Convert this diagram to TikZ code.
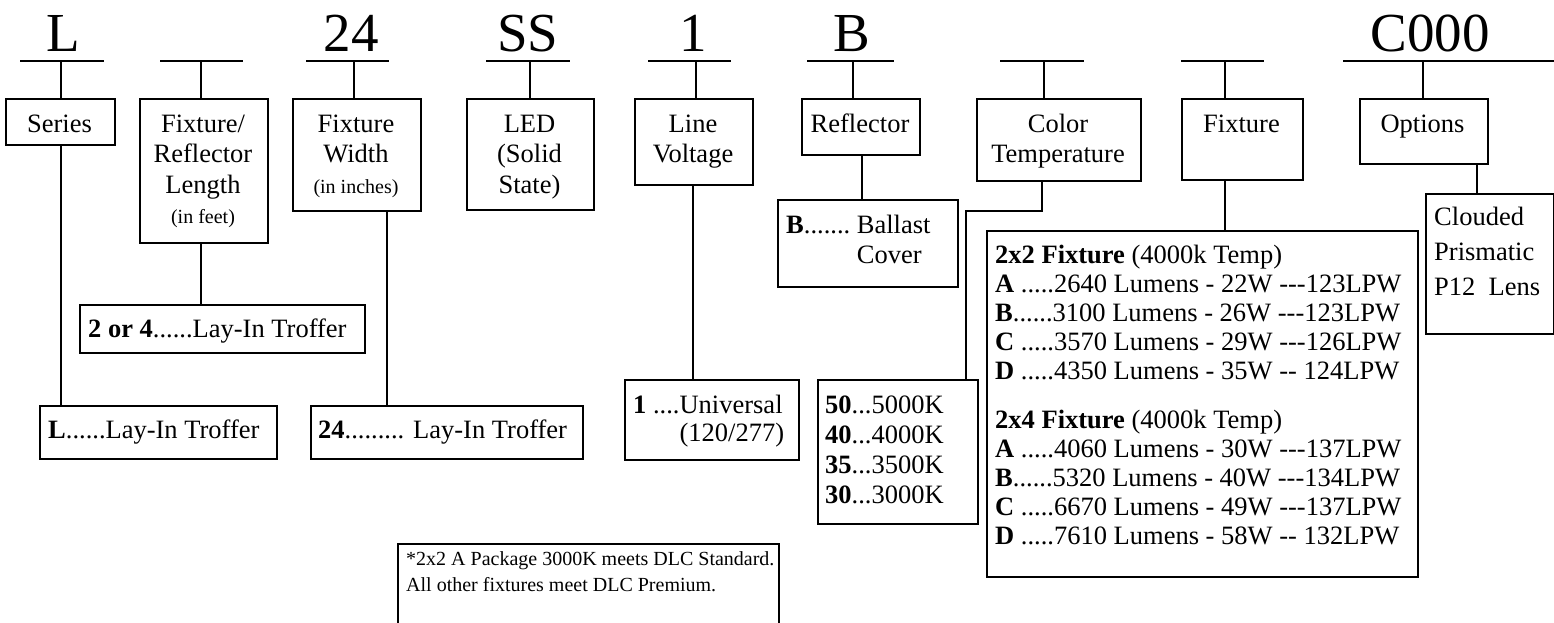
\documentclass[tikz,border=0pt]{standalone}
\usepackage{fontspec}
\setmainfont{Liberation Serif}[Ligatures=TeXOff]
\begin{document}
\begin{tikzpicture}[x=1pt,y=-1pt,
  box/.style={draw, line width=1.8pt, inner sep=0pt, anchor=north west},
  big/.style={font=\fontsize{55}{60}\selectfont, anchor=base, inner sep=0pt},
  txt/.style={font=\fontsize{26.5}{30.5}\selectfont, inner sep=0pt, anchor=base},
  ltxt/.style={inner sep=0pt, anchor=base west},
  ln/.style={line width=1.8pt}]
\fill[white] (0,0) rectangle (1554,622);
\useasboundingbox (0,0) rectangle (1554,622);

% ---- top code letters
\node[big] (tL) at (63,51) {L};
\node[big] (t24) at (351,51) {24};
\node[big] (tSS) at (528,51) {SS};
\node[big] (t1) at (693,51) {1};
\node[big] (tB) at (852,51) {B};
\node[big] (tC) at (1430,51) {C000};

% ---- top lines
\foreach \n/\a/\b/\s in {1/20/104/61, 2/160/243/201, 3/306/389/354, 4/486/570/530,
  5/648/731/696, 6/807/894/853, 7/1000/1084/1044, 8/1181/1264/1225, 9/1343/1556/1423}{
  \coordinate (a\n) at (\a,61);
  \coordinate (b\n) at (\b,61);
  \coordinate (s\n) at (\s,61);
  \draw[ln] (a\n) -- (b\n);
}

% ---- first-level boxes
\node[box, minimum width=109pt, minimum height=46pt] (series) at (5,98) {};
\node[box, minimum width=128pt, minimum height=144pt] (fixlen) at (139,98) {};
\node[box, minimum width=128pt, minimum height=112pt] (width) at (292,98) {};
\node[box, minimum width=127pt, minimum height=111pt] (led) at (466,98) {};
\node[box, minimum width=118pt, minimum height=86pt] (volt) at (634,98) {};
\node[box, minimum width=118pt, minimum height=56pt] (refl) at (801,98) {};
\node[box, minimum width=164pt, minimum height=82pt] (color) at (976,98) {};
\node[box, minimum width=121pt, minimum height=81pt] (fix) at (1181,98) {};
\node[box, minimum width=128pt, minimum height=65pt] (opt) at (1359,98) {};

\draw[ln] (s1) -- (s1 |- series.north);
\draw[ln] (s2) -- (s2 |- fixlen.north);
\draw[ln] (s3) -- (s3 |- width.north);
\draw[ln] (s4) -- (s4 |- led.north);
\draw[ln] (s5) -- (s5 |- volt.north);
\draw[ln] (s6) -- (s6 |- refl.north);
\draw[ln] (s7) -- (s7 |- color.north);
\draw[ln] (s8) -- (s8 |- fix.north);
\draw[ln] (s9) -- (s9 |- opt.north);

% ---- first-level texts
\node[txt] (seriesT) at (59.5,132) {Series};
\node[txt] (fixlenT) at (203,132) {\begin{tabular}[t]{@{}c@{}}Fixture/\\Reflector\\Length\\{\fontsize{20}{24}\selectfont (in feet)}\end{tabular}};
\node[txt] (widthT) at (356,132) {\begin{tabular}[t]{@{}c@{}}Fixture\\Width\\{\fontsize{20}{24}\selectfont (in inches)}\end{tabular}};
\node[txt] (ledT) at (529.5,132) {\begin{tabular}[t]{@{}c@{}}LED\\(Solid\\State)\end{tabular}};
\node[txt] (voltT) at (693,132) {\begin{tabular}[t]{@{}c@{}}Line\\Voltage\end{tabular}};
\node[txt] (reflT) at (860,132) {Reflector};
\node[txt] (colorT) at (1058,132) {\begin{tabular}[t]{@{}c@{}}Color\\Temperature\end{tabular}};
\node[txt] (fixT) at (1241.5,132) {Fixture};
\node[txt] (optT) at (1422.5,132) {Options};

% ---- second-level boxes
\node[box, minimum width=237pt, minimum height=53pt] (lbox) at (39,405) {};
\node[box, minimum width=285pt, minimum height=48pt] (or4) at (79,304) {};
\node[box, minimum width=272pt, minimum height=53pt] (w24) at (310,405) {};
\node[box, minimum width=174pt, minimum height=80pt] (univ) at (624,379) {};
\node[box, minimum width=180pt, minimum height=87pt] (ballast) at (777,199) {};
\node[box, minimum width=160pt, minimum height=144pt] (temp) at (817,379) {};
\node[box, minimum width=431pt, minimum height=346pt] (spec) at (986,230) {};
\node[box, minimum width=128pt, minimum height=140pt] (clouded) at (1425,193) {};
\node[box, minimum width=381pt, minimum height=110pt] (foot) at (397,543) {};

% ---- connectors to second level
\coordinate (k3) at (387,0);
\coordinate (k5) at (693,0);
\coordinate (k6) at (862,0);
\coordinate (k7) at (1042,211);
\coordinate (k7b) at (966,211);
\coordinate (k9) at (1477,0);
\draw[ln] (series.south -| s1) -- (lbox.north -| s1);
\draw[ln] (fixlen.south -| s2) -- (or4.north -| s2);
\draw[ln] (width.south -| k3) -- (w24.north -| k3);
\draw[ln] (volt.south -| k5) -- (univ.north -| k5);
\draw[ln] (refl.south -| k6) -- (ballast.north -| k6);
\draw[ln] (color.south -| k7) -- (k7) -- (k7b) -- (k7b |- temp.north);
\draw[ln] (fix.south -| s8) -- (spec.north -| s8);
\draw[ln] (opt.south -| k9) -- (clouded.north -| k9);

% ---- second-level texts
\node[ltxt, font=\fontsize{26.5}{30}\selectfont] (lboxT) at (48,438) {\textbf{L}......Lay-In Troffer};
\node[ltxt, font=\fontsize{26.5}{30}\selectfont] (or4T) at (88,337) {\textbf{2 or 4}......Lay-In Troffer};
\node[ltxt, font=\fontsize{26.5}{30}\selectfont] (w24T) at (318,438) {\textbf{24}......... Lay-In Troffer};
\node[ltxt, font=\fontsize{26.5}{28}\selectfont] (univT) at (633,413) {\begin{tabular}[t]{@{}l@{}l@{}}\textbf{1} ....&Universal\\&(120/277)\end{tabular}};
\node[ltxt, font=\fontsize{26.5}{30}\selectfont] (ballastT) at (786,233) {\begin{tabular}[t]{@{}l@{}l@{}}\textbf{B}.......\kern6.6pt&Ballast\\&Cover\end{tabular}};
\node[ltxt, font=\fontsize{26.5}{30}\selectfont] (tempT) at (825,413) {\begin{tabular}[t]{@{}l@{}}\textbf{50}...5000K\\\textbf{40}...4000K\\\textbf{35}...3500K\\\textbf{30}...3000K\end{tabular}};
\node[ltxt, font=\fontsize{26.5}{29}\selectfont] (specT) at (995,263) {\begin{tabular}[t]{@{}l@{}}
\textbf{2x2 Fixture} (4000k Temp)\\
\textbf{A} .....2640 Lumens - 22W ---123LPW\\
\textbf{B}......3100 Lumens - 26W ---123LPW\\
\textbf{C} .....3570 Lumens - 29W ---126LPW\\
\textbf{D} .....4350 Lumens - 35W -- 124LPW\\[20pt]
\textbf{2x4 Fixture} (4000k Temp)\\
\textbf{A} .....4060 Lumens - 30W ---137LPW\\
\textbf{B}......5320 Lumens - 40W ---134LPW\\
\textbf{C} .....6670 Lumens - 49W ---137LPW\\
\textbf{D} .....7610 Lumens - 58W -- 132LPW\end{tabular}};
\node[ltxt, font=\fontsize{26.5}{35}\selectfont] (cloudedT) at (1434,225) {\begin{tabular}[t]{@{}l@{}}Clouded\\Prismatic\\P12\ \ Lens\end{tabular}};
\node[ltxt, font=\fontsize{20}{26}\selectfont] (footT) at (406,565) {\begin{tabular}[t]{@{}l@{}}*2x2 A Package 3000K meets DLC Standard.\\All other fixtures meet DLC Premium.\end{tabular}};
\end{tikzpicture}
\end{document}
